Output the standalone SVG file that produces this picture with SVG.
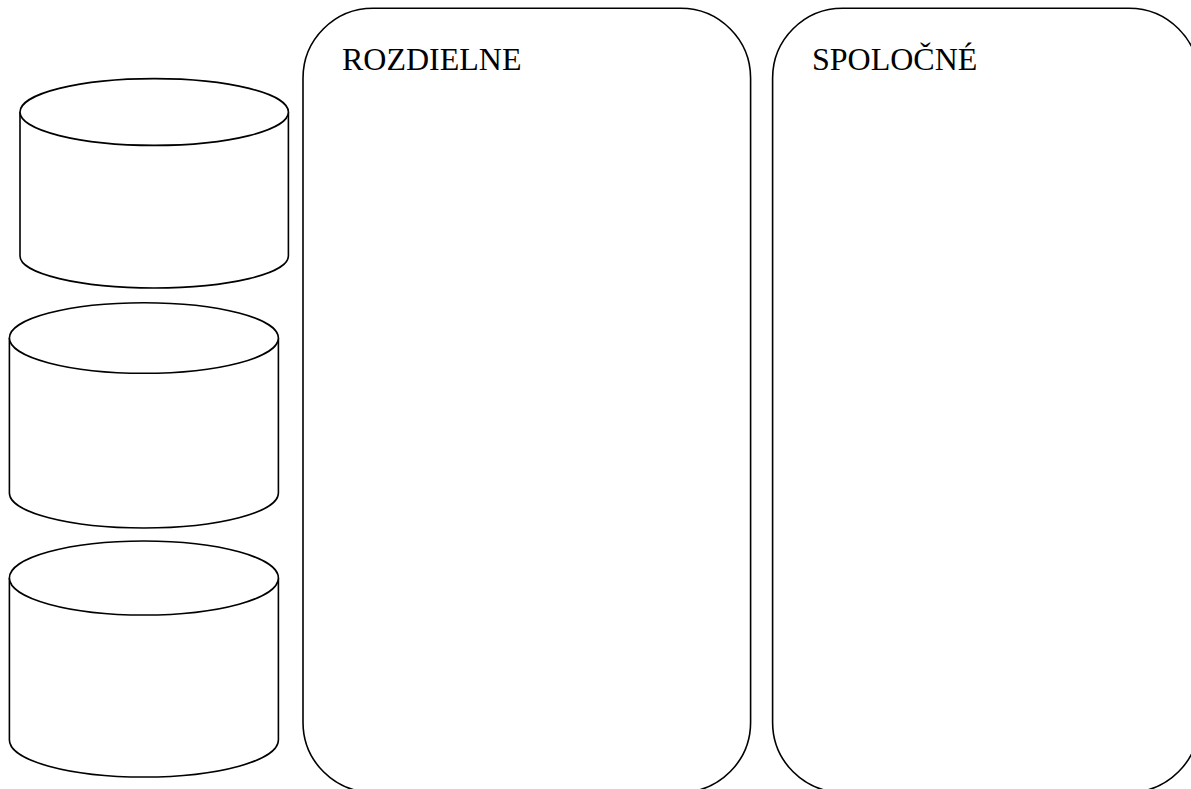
<svg xmlns="http://www.w3.org/2000/svg" width="1191" height="789" viewBox="0 0 1191 789">
  <style>
    .shape { fill: #ffffff; stroke: #000000; stroke-width: 1.6; }
    .title { font-family: "Liberation Serif", "Times New Roman", serif; font-size: 32px; fill: #000000; }
  </style>
  <rect width="1191" height="789" fill="#ffffff"/>

  <!-- stacked cylinders on the left -->
  <g id="cylinder-1">
    <path class="shape" d="M20,112 L20,256 A134.2,32 0 0 0 288.4,256 L288.4,112"/>
    <ellipse class="shape" cx="154.2" cy="112" rx="134.2" ry="33.4"/>
  </g>
  <g id="cylinder-2">
    <path class="shape" d="M9.4,338 L9.4,493 A134.5,35 0 0 0 278.4,493 L278.4,338"/>
    <ellipse class="shape" cx="143.9" cy="338" rx="134.5" ry="35.3"/>
  </g>
  <g id="cylinder-3">
    <path class="shape" d="M9.4,578 L9.4,740 A134.5,37 0 0 0 278.4,740 L278.4,578"/>
    <ellipse class="shape" cx="143.9" cy="578" rx="134.5" ry="37"/>
  </g>

  <!-- rounded panels -->
  <g id="panel-rozdielne">
    <rect class="shape" x="303" y="8.3" width="447.6" height="784" rx="70" ry="70"/>
    <text class="title" x="342" y="70">ROZDIELNE</text>
  </g>
  <g id="panel-spolocne">
    <rect class="shape" x="772.6" y="8.3" width="426.4" height="784" rx="70" ry="70"/>
    <text class="title" x="812" y="70">SPOLOČNÉ</text>
  </g>

  <g id="connectors"/>
</svg>
